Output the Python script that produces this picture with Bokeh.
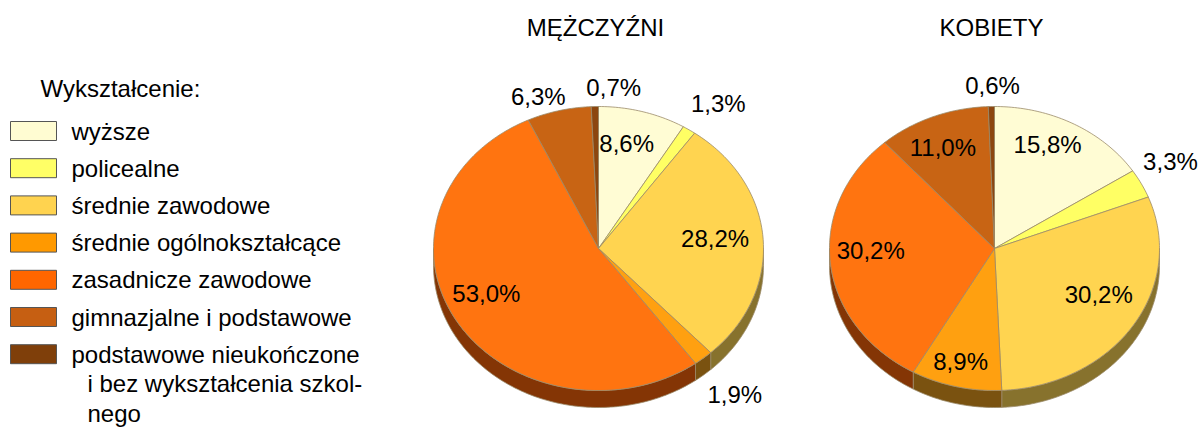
import numpy as np
from bokeh.plotting import figure
from bokeh.models import Range1d, ColumnDataSource
from bokeh.embed import file_html
from bokeh.resources import INLINE
from bokeh.core.properties import value

# --- data -------------------------------------------------------------
categories = [
    "wyższe",
    "policealne",
    "średnie zawodowe",
    "średnie ogólnokształcące",
    "zasadnicze zawodowe",
    "gimnazjalne i podstawowe",
    "podstawowe nieukończone i bez wykształcenia szkolnego",
]
men = [8.6, 1.3, 28.2, 1.9, 53.0, 6.3, 0.7]
women = [15.8, 3.3, 30.2, 8.9, 30.2, 11.0, 0.6]
pie_titles = ["MĘŻCZYŹNI", "KOBIETY"]
legend_title = "Wykształcenie:"
# wrapped legend text for the last category
legend_lines = [
    ["wyższe"],
    ["policealne"],
    ["średnie zawodowe"],
    ["średnie ogólnokształcące"],
    ["zasadnicze zawodowe"],
    ["gimnazjalne i podstawowe"],
    ["podstawowe nieukończone", "i bez wykształcenia szkol-", "nego"],
]

# --- styles -----------------------------------------------------------
legend_colors = ["#FFFCD2", "#FFFF66", "#FFD34F", "#FF9900", "#FF6600", "#C65F12", "#7F3F0A"]
face_colors = ["#FFFCD4", "#FFFF64", "#FFD450", "#FFA010", "#FF7410", "#C86414", "#8C460F"]
side_colors = ["#8C8A70", "#8C8C30", "#87722D", "#7A5210", "#843505", "#6E3208", "#4A2405"]
outline = "#9A8A6A"
FONT = "Liberation Sans"
FS = "24px"

RX, RY, DEPTH = 165.0, 142.0, 17.0
pie_centers = [(598.0, 248.0), (994.0, 248.0)]
# label placement: radial factor and angular nudge (degrees) per slice
label_f = [
    [0.76, 1.25, 0.71, 1.32, 0.75, 1.13, 1.14],
    [0.80, 1.23, 0.71, 0.82, 0.75, 0.78, 1.15],
]
label_dt = [
    [-2.5, 2.2, -2.0, 0.7, 5.6, -5.0, 5.9],
    [-4.7, -2.7, -6.0, 1.0, 5.0, -1.7, 0.5],
]

p = figure(width=1200, height=428, x_range=Range1d(0, 1200), y_range=Range1d(428, 0),
           output_backend="svg", toolbar_location=None,
           x_axis_location=None, y_axis_location=None,
           min_border=0, outline_line_color=None)
p.xgrid.grid_line_color = None
p.ygrid.grid_line_color = None


def arc(cx, cy, a0, a1, dy=0.0):
    n = max(2, int(abs(a1 - a0)) + 2)
    t = np.radians(np.linspace(a0, a1, n))
    return cx + RX * np.sin(t), cy - RY * np.cos(t) + dy


for k, vals in enumerate([men, women]):
    cx, cy = pie_centers[k]
    total = float(sum(vals))
    bounds = np.concatenate([[0.0], np.cumsum(vals) / total * 360.0])

    # front side of the disc
    sx, sy, sc = [], [], []
    for i in range(len(vals)):
        lo, hi = max(bounds[i], 90.0), min(bounds[i + 1], 270.0)
        if hi > lo:
            tx, ty = arc(cx, cy, lo, hi)
            bx, by = arc(cx, cy, hi, lo, DEPTH)
            sx.append(list(np.concatenate([tx, bx])))
            sy.append(list(np.concatenate([ty, by])))
            sc.append(side_colors[i])
    p.patches("xs", "ys", source=ColumnDataSource(dict(xs=sx, ys=sy, c=sc)),
              fill_color="c", line_color=outline, line_width=0.8)

    # top faces
    fx, fy = [], []
    for i in range(len(vals)):
        ax, ay = arc(cx, cy, bounds[i], bounds[i + 1])
        fx.append([cx] + list(ax))
        fy.append([cy] + list(ay))
    p.patches("xs", "ys", source=ColumnDataSource(dict(xs=fx, ys=fy, c=face_colors)),
              fill_color="c", line_color=outline, line_width=0.8)

    # value labels
    lx, ly, lt = [], [], []
    for i, v in enumerate(vals):
        mid = (bounds[i] + bounds[i + 1]) / 2.0 + label_dt[k][i]
        t = np.radians(mid)
        f = label_f[k][i]
        lx.append(cx + RX * f * np.sin(t))
        ly.append(cy - RY * f * np.cos(t))
        lt.append(f"{v:.1f}%".replace(".", ","))
    p.text("x", "y", text="t", source=ColumnDataSource(dict(x=lx, y=ly, t=lt)),
           text_font=value(FONT), text_font_size=FS, text_color="#000000",
           text_align="center", text_baseline="middle")

    # pie title
    p.text(x=[cx - 3], y=[27], text=[pie_titles[k]], text_font=value(FONT),
           text_font_size=FS, text_color="#000000",
           text_align="center", text_baseline="middle")

# --- legend -----------------------------------------------------------
p.text(x=[40], y=[88], text=[legend_title], text_font=value(FONT),
       text_font_size=FS, text_color="#000000", text_baseline="middle")

row0, step = 130.5, 37.2
p.rect(x=[33] * len(categories), y=[row0 + i * step for i in range(len(categories))],
       width=46, height=19, fill_color=legend_colors, line_color="#555555", line_width=1)

tx, ty, tt = [], [], []
for i, lines in enumerate(legend_lines):
    base = row0 + i * step
    for j, line in enumerate(lines):
        tx.append(71 if j == 0 else 87)
        ty.append(base + j * 29.5)
        tt.append(line)
p.text("x", "y", text="t", source=ColumnDataSource(dict(x=tx, y=ty, t=tt)),
       text_font=value(FONT), text_font_size=FS, text_color="#000000",
       text_baseline="middle")

open("out.html", "w").write(file_html(p, INLINE))
